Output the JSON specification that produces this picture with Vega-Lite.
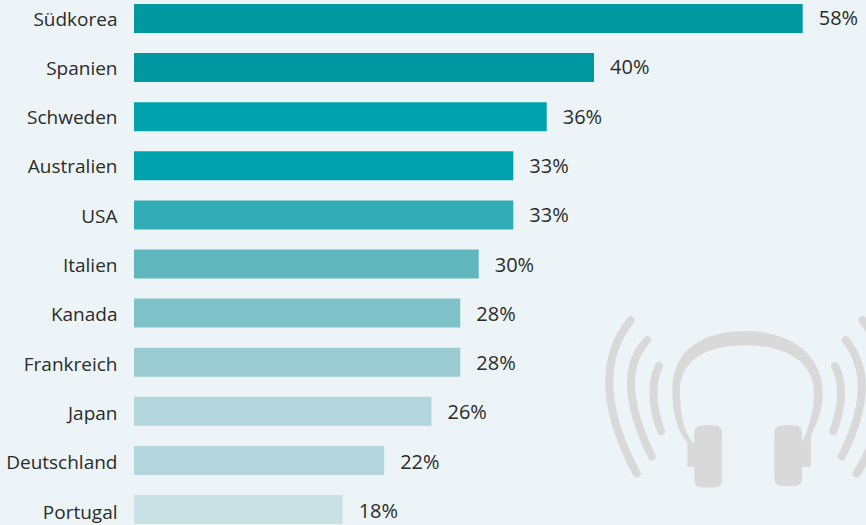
{
"$schema":"https://vega.github.io/schema/vega-lite/v6.json",
"width":732,"height":520,
"autosize":{"type":"none"},
"padding":{"left":134,"top":4,"right":0,"bottom":1},
"background":"#ecf4f7",
"config":{"view":{"stroke":null},"font":"Open Sans"},
"datasets":{"laender":[
{"land":"Südkorea","anteil":58,"label":"58%"},
{"land":"Spanien","anteil":39.9,"label":"40%"},
{"land":"Schweden","anteil":35.8,"label":"36%"},
{"land":"Australien","anteil":32.9,"label":"33%"},
{"land":"USA","anteil":32.9,"label":"33%"},
{"land":"Italien","anteil":29.9,"label":"30%"},
{"land":"Kanada","anteil":28.3,"label":"28%"},
{"land":"Frankreich","anteil":28.3,"label":"28%"},
{"land":"Japan","anteil":25.8,"label":"26%"},
{"land":"Deutschland","anteil":21.7,"label":"22%"},
{"land":"Portugal","anteil":18.1,"label":"18%"}],
"symbol":[{"land":"Japan","anteil":52.13}]},
"resolve":{"scale":{"y":"independent"}},
"layer":[
{"data":{"name":"symbol"},
 "mark":{"type":"point","filled":true,"fill":"#d9d9d9","stroke":null,"opacity":1,"size":40000,"clip":false,"yOffset":1.5,
  "shape":"M-.477 .542L-.477 .292C-.567 .208 -.627 .008 -.627 -.225C-.627 -.658 -.283 -.818 .1 -.818C.55 -.818 .877 -.592 .877 -.192C.877 -.025 .817 .108 .757 .242L.757 .542L.67 .542L.67 .292C.733 .175 .79 -.025 .79 -.192C.79 -.525 .483 -.675 .1 -.675C-.283 -.675 -.55 -.525 -.55 -.225C-.55 .042 -.5 .225 -.407 .308L-.407 .542Z M-.327 .125L-.21 .125Q-.13 .125 -.13 .205L-.13 .668Q-.13 .748 -.21 .748L-.327 .748Q-.407 .748 -.407 .668L-.407 .205Q-.407 .125 -.327 .125Z M.473 .125L.59 .125Q.67 .125 .67 .205L.67 .652Q.67 .732 .59 .732L.473 .732Q.393 .732 .393 .652L.393 .205Q.393 .125 .473 .125Z"},
 "encoding":{"x":{"field":"anteil","type":"quantitative","axis":null,"scale":{"domain":[0,63.49],"nice":false}},
  "y":{"field":"land","type":"nominal","sort":null,"axis":null,"scale":{"type":"band","domain":["Südkorea","Spanien","Schweden","Australien","USA","Italien","Kanada","Frankreich","Japan","Deutschland","Portugal"],"paddingInner":0.409,"paddingOuter":0}}}},
{"data":{"name":"symbol"},
 "mark":{"type":"point","filled":false,"stroke":"#d9d9d9","strokeWidth":8,"strokeCap":"round","opacity":1,"size":40000,"clip":false,"yOffset":1.5,
  "shape":"M-1.043 -.925Q-1.501 -.358 -.983 .608M-.877 -.725Q-1.225 -.371 -.833 .435M-.76 -.468Q-.884 -.209 -.74 .185M1 -.468Q1.129 -.209 .983 .185M1.107 -.725Q1.447 -.305 1.067 .435M1.277 -.925Q1.753 -.292 1.217 .608"},
 "encoding":{"x":{"field":"anteil","type":"quantitative","axis":null,"scale":{"domain":[0,63.49],"nice":false}},
  "y":{"field":"land","type":"nominal","sort":null,"axis":null,"scale":{"type":"band","domain":["Südkorea","Spanien","Schweden","Australien","USA","Italien","Kanada","Frankreich","Japan","Deutschland","Portugal"],"paddingInner":0.409,"paddingOuter":0}}}},
{"data":{"name":"laender"},
 "mark":{"type":"bar"},
 "encoding":{"x":{"field":"anteil","type":"quantitative","axis":null,"scale":{"domain":[0,63.49],"nice":false}},
  "y":{"field":"land","type":"nominal","sort":null,"axis":null,"scale":{"type":"band","domain":["Südkorea","Spanien","Schweden","Australien","USA","Italien","Kanada","Frankreich","Japan","Deutschland","Portugal"],"paddingInner":0.409,"paddingOuter":0}},
  "color":{"field":"land","type":"nominal","legend":null,
   "scale":{"domain":["Südkorea","Spanien","Schweden","Australien","USA","Italien","Kanada","Frankreich","Japan","Deutschland","Portugal"],
   "range":["#0099a2","#0099a2","#00a3ad","#00a3ad","#33adb5","#60b7be","#7fc1c8","#99cbd0","#b2d6db","#b2d6db","#c9e0e4"]}}}},
{"data":{"name":"laender"},
 "mark":{"type":"text","align":"left","baseline":"middle","dx":16,"fontSize":20,"fill":"#2b2b2b"},
 "encoding":{"x":{"field":"anteil","type":"quantitative","axis":null,"scale":{"domain":[0,63.49],"nice":false}},
  "y":{"field":"land","type":"nominal","sort":null,
   "scale":{"type":"point","padding":0,"domain":["Südkorea","Spanien","Schweden","Australien","USA","Italien","Kanada","Frankreich","Japan","Deutschland","Portugal"],"range":[15,508]},
   "axis":{"title":null,"domain":false,"ticks":false,"labelPadding":17,"labelFontSize":19,"labelColor":"#2b2b2b","labelFont":"Open Sans","labelBaseline":"middle"}},
  "text":{"field":"label"}}}
]
}
